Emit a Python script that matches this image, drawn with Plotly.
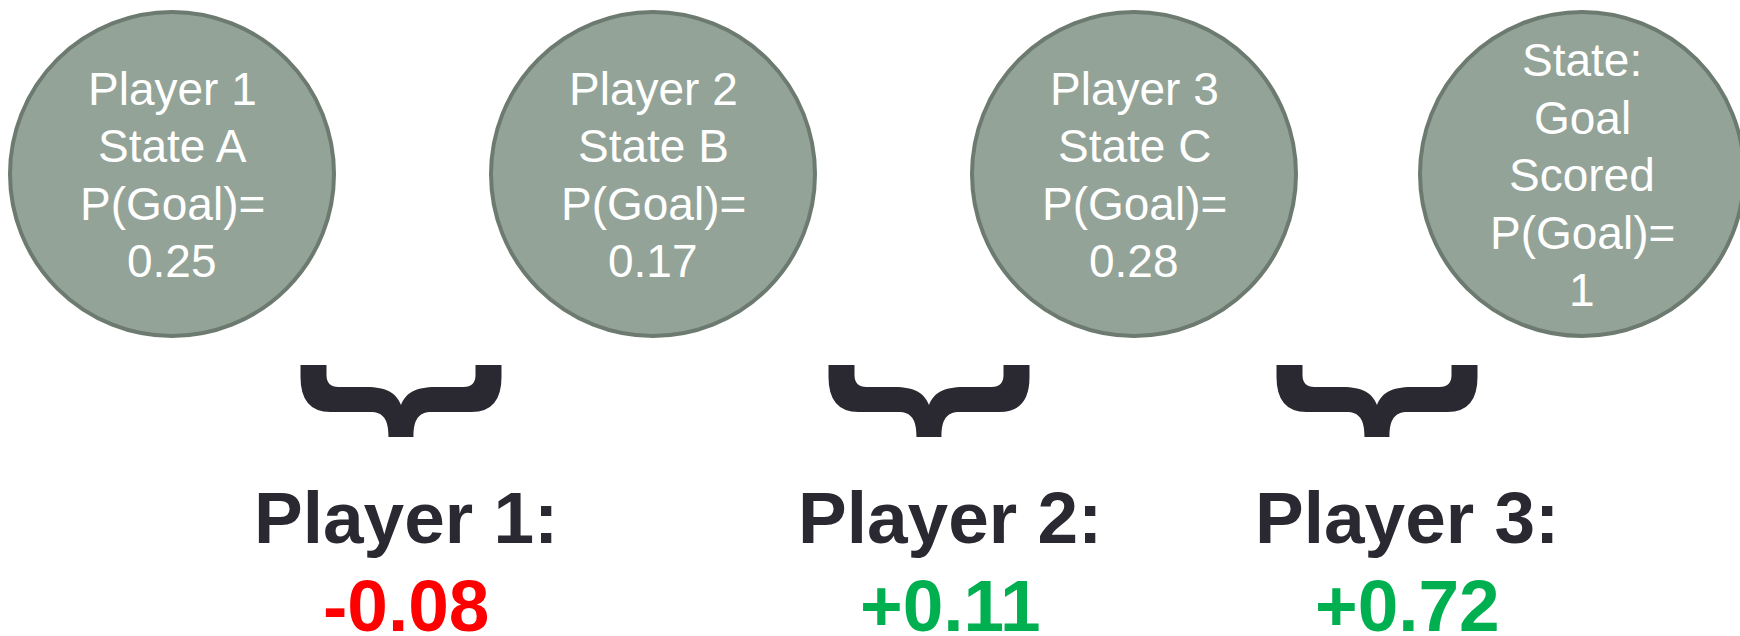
import plotly.graph_objects as go

# ---- data ----
circle_labels = [
    ["Player 1", "State A", "P(Goal)=", "0.25"],
    ["Player 2", "State B", "P(Goal)=", "0.17"],
    ["Player 3", "State C", "P(Goal)=", "0.28"],
    ["State:", "Goal", "Scored", "P(Goal)=", "1"],
]
p_goal = [0.25, 0.17, 0.28, 1]
players = ["Player 1:", "Player 2:", "Player 3:"]
contributions = ["-0.08", "+0.11", "+0.72"]

# ---- layout constants (pixel space) ----
W, H = 1740, 636
circle_cx = [172, 653, 1134, 1582]
circle_cy = 174
circle_r = 162
text_cy = 175
line_gap = 57.5
brace_cx = [401, 929, 1377]
brace_top = 365
label_cx = [406, 950, 1407]
label_y = 517
value_y = 605

FILL = "#93a398"
EDGE = "#6c7a70"
DARK = "#2a2932"
RED = "#ff0000"
GREEN = "#00b050"
FONT = "Arial, Liberation Sans, sans-serif"


def brace_path(cx, top, w=201):
    x0 = cx - w / 2
    pts = [
        ("M", [(0, 0)]),
        ("L", [(0, 12)]),
        ("Q", [(0, 47), (30, 47)]),
        ("L", [(72, 47)]),
        ("C", [(85, 48), (88, 58), (88, 72)]),
        ("L", [(113, 72)]),
        ("C", [(113, 58), (116, 48), (129, 47)]),
        ("L", [(171, 47)]),
        ("Q", [(201, 47), (201, 12)]),
        ("L", [(201, 0)]),
        ("L", [(175, 0)]),
        ("L", [(175, 10)]),
        ("Q", [(175, 22), (163, 22)]),
        ("L", [(135, 22)]),
        ("C", [(115, 22), (105, 28), (100.5, 40)]),
        ("C", [(96, 28), (86, 22), (66, 22)]),
        ("L", [(38, 22)]),
        ("Q", [(26, 22), (26, 10)]),
        ("L", [(26, 0)]),
    ]
    s = ""
    sx = w / 201.0
    for cmd, ps in pts:
        s += cmd + " " + " ".join(f"{x0 + px * sx:.2f},{top + py:.2f}" for px, py in ps) + " "
    return s + "Z"


fig = go.Figure()
# invisible trace to set up the axes
fig.add_trace(go.Scatter(x=[0, W], y=[0, H], mode="markers",
                         marker=dict(opacity=0), hoverinfo="skip", showlegend=False))

shapes = []
annotations = []
for cx, lines in zip(circle_cx, circle_labels):
    shapes.append(dict(type="circle", xref="x", yref="y",
                       x0=cx - circle_r, x1=cx + circle_r,
                       y0=circle_cy - circle_r, y1=circle_cy + circle_r,
                       fillcolor=FILL, line=dict(color=EDGE, width=4), layer="below"))
    n = len(lines)
    for i, ln in enumerate(lines):
        annotations.append(dict(x=cx, y=text_cy + (i - (n - 1) / 2) * line_gap,
                                xref="x", yref="y", text=ln,
                                showarrow=False, align="center",
                                xanchor="center", yanchor="middle",
                                font=dict(family=FONT, size=46, color="white")))

for bx in brace_cx:
    shapes.append(dict(type="path", xref="x", yref="y", path=brace_path(bx, brace_top),
                       fillcolor=DARK, line=dict(width=0)))

for lx, name, val in zip(label_cx, players, contributions):
    col = RED if val.startswith("-") else GREEN
    annotations.append(dict(x=lx, y=label_y, xref="x", yref="y", text=f"<b>{name}</b>",
                            showarrow=False, xanchor="center", yanchor="middle",
                            font=dict(family=FONT, size=73, color=DARK)))
    annotations.append(dict(x=lx, y=value_y, xref="x", yref="y", text=f"<b>{val}</b>",
                            showarrow=False, xanchor="center", yanchor="middle",
                            font=dict(family=FONT, size=73, color=col)))

fig.update_layout(
    width=W, height=H, margin=dict(l=0, r=0, t=0, b=0),
    paper_bgcolor="white", plot_bgcolor="white",
    xaxis=dict(range=[0, W], visible=False, fixedrange=True),
    yaxis=dict(range=[H, 0], visible=False, fixedrange=True),
    shapes=shapes, annotations=annotations, showlegend=False,
)

fig.write_html("out.html", config={"displayModeBar": False})
with open("out.html", "r", encoding="utf-8") as f:
    html = f.read()
html = html.replace("<head>", "<head><style>html,body{margin:0;padding:0;overflow:hidden}</style>", 1)
with open("out.html", "w", encoding="utf-8") as f:
    f.write(html)
